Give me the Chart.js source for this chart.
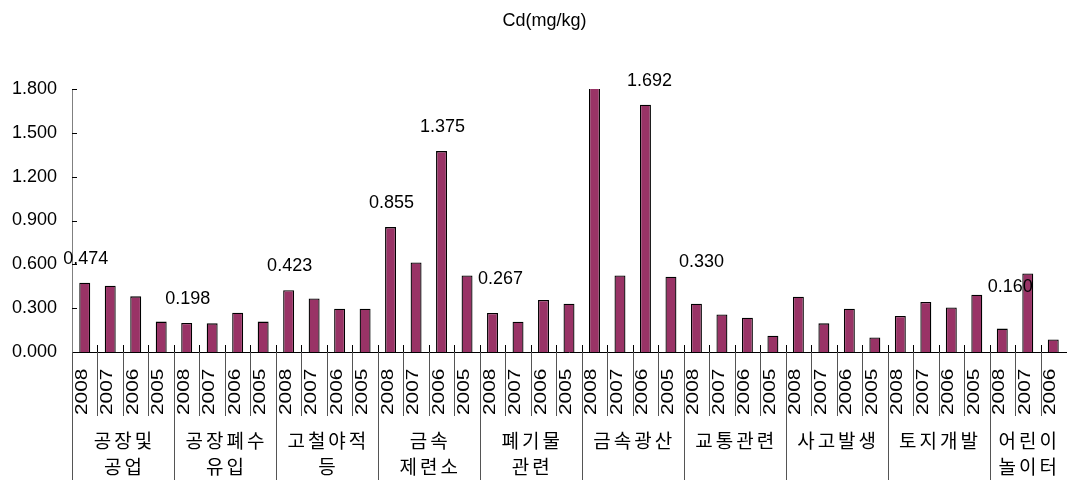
<!DOCTYPE html>
<html>
<head>
<meta charset="utf-8">
<script src="https://cdn.jsdelivr.net/npm/chart.js@4"></script>
<style>
    html, body { margin: 0; padding: 0; background: #fff; }
    #wrap { width: 1069px; height: 480px; }
</style>
</head>
<body>
<div id="wrap"><canvas id="grafico-cd"></canvas></div>
<script>
// grupos (categoria principal) e anos de cada grupo
const groupNames = [
    ['공장및', '공업'], ['공장폐수', '유입'], ['고철야적', '등'], ['금속', '제련소'], ['폐기물', '관련'],
    ['금속광산'], ['교통관련'], ['사고발생'], ['토지개발'], ['어린이', '놀이터']
];
const groupYears = [
    ['2008', '2007', '2006', '2005'], ['2008', '2007', '2006', '2005'], ['2008', '2007', '2006', '2005'],
    ['2008', '2007', '2006', '2005'], ['2008', '2007', '2006', '2005'], ['2008', '2007', '2006', '2005'],
    ['2008', '2007', '2006', '2005'], ['2008', '2007', '2006', '2005'], ['2008', '2007', '2006', '2005'],
    ['2008', '2007', '2006']
];
const cdValues = [
    0.474, 0.454, 0.381, 0.208,
    0.198, 0.196, 0.269, 0.208,
    0.423, 0.367, 0.296, 0.296,
    0.855, 0.613, 1.375, 0.524,
    0.267, 0.207, 0.356, 0.331,
    1.820, 0.524, 1.692, 0.515,
    0.330, 0.257, 0.235, 0.112,
    0.378, 0.196, 0.296, 0.100,
    0.246, 0.342, 0.305, 0.392,
    0.160, 0.538, 0.086
];
// barras que mostram o valor
const labeledBars = [0, 4, 8, 12, 14, 16, 22, 24, 36];
const yTicks = [0, 0.3, 0.6, 0.9, 1.2, 1.5, 1.8];

const yearLabels = groupYears.flat();
const numFont = "'Liberation Sans', Arial, sans-serif";
const korFont = "'Noto Sans CJK KR', sans-serif";

// deslocamento manual de alguns rótulos (como no original)
const labelNudge = { 16: [7, -10], 22: [3, 0], 24: [4, -18], 36: [7, -18] };

const decorPlugin = {
    id: 'decor',
    afterDraw(chart) {
        const ctx = chart.ctx;
        const x = chart.scales.x;
        const y = chart.scales.y;
        const area = chart.chartArea;
        const half = (x.getPixelForValue(1) - x.getPixelForValue(0)) / 2;
        const base = area.bottom;

        ctx.save();

        // título (um pouco à direita do centro, como no original)
        ctx.fillStyle = '#000';
        ctx.font = '18px ' + numFont;
        ctx.textAlign = 'center';
        ctx.textBaseline = 'middle';
        ctx.fillText('Cd(mg/kg)', chart.width / 2 + 10, 21);

        // marcas do eixo y (para dentro)
        ctx.strokeStyle = '#000';
        ctx.lineWidth = 1;
        yTicks.forEach(v => {
            const py = Math.round(y.getPixelForValue(v)) + 0.5;
            ctx.beginPath();
            ctx.moveTo(area.left, py);
            ctx.lineTo(area.left + 5, py);
            ctx.stroke();
        });

        // separadores e anos
        let idx = 0;
        groupYears.forEach((years, g) => {
            years.forEach((yr, k) => {
                const cx = x.getPixelForValue(idx);
                const left = Math.round(cx - half) + 0.5;
                if (idx > 0) {
                    ctx.strokeStyle = '#000';
                    ctx.beginPath();
                    ctx.moveTo(left, base - 7);
                    ctx.lineTo(left, base);
                    ctx.stroke();
                }
                ctx.strokeStyle = '#555';
                ctx.beginPath();
                ctx.moveTo(left, base);
                ctx.lineTo(left, k === 0 ? 480 : base + 64);
                ctx.stroke();

                ctx.save();
                ctx.translate(cx + 2, base + 63);
                ctx.rotate(-Math.PI / 2);
                ctx.scale(1.3, 1);
                ctx.fillStyle = '#000';
                ctx.font = '16px ' + numFont;
                ctx.textAlign = 'left';
                ctx.textBaseline = 'alphabetic';
                ctx.fillText(yr, 0, 0);
                ctx.restore();
                idx++;
            });
        });

        // nomes dos grupos
        idx = 0;
        ctx.fillStyle = '#000';
        ctx.font = '19px ' + korFont;
        ctx.letterSpacing = '3px';
        ctx.textAlign = 'center';
        ctx.textBaseline = 'middle';
        groupNames.forEach((lines, g) => {
            const n = groupYears[g].length;
            const gx = (x.getPixelForValue(idx) + x.getPixelForValue(idx + n - 1)) / 2 + 1.5;
            lines.forEach((txt, li) => {
                ctx.fillText(txt, gx, base + 89 + li * 26);
            });
            idx += n;
        });
        ctx.letterSpacing = '0px';

        // rótulos de valor
        ctx.font = '18px ' + numFont;
        ctx.textBaseline = 'middle';
        labeledBars.forEach(i => {
            const nudge = labelNudge[i] || [0, 0];
            const px = x.getPixelForValue(i) + 1 + nudge[0];
            const py = y.getPixelForValue(cdValues[i]) - 24 + nudge[1];
            ctx.fillText(cdValues[i].toFixed(3), px, py);
        });

        ctx.restore();
    }
};

const ctx = document.getElementById('grafico-cd').getContext('2d');
new Chart(ctx, {
    type: 'bar',
    data: {
        labels: yearLabels,
        datasets: [{
            label: 'Cd(mg/kg)',
            data: cdValues,
            backgroundColor: '#993366',
            borderColor: '#000',
            borderWidth: 1.3,
            barPercentage: 0.43,
            categoryPercentage: 1
        }]
    },
    options: {
        responsive: true,
        maintainAspectRatio: false,
        animation: false,
        layout: {
            padding: { left: 0, right: 3, top: 89, bottom: 128 }
        },
        plugins: {
            legend: { display: false },
            tooltip: { enabled: false },
            title: { display: false }
        },
        scales: {
            x: {
                offset: true,
                afterFit: s => { s.height = 0; },
                grid: { display: false, drawTicks: false },
                border: { display: true, color: '#000', width: 1 },
                ticks: { display: false }
            },
            y: {
                min: 0,
                max: 1.8,
                afterFit: s => { s.width = 72; },
                afterBuildTicks: s => { s.ticks = yTicks.map(v => ({ value: v })); },
                grid: { display: false, drawTicks: false },
                border: { display: true, color: '#808080', width: 1 },
                ticks: {
                    color: '#000',
                    padding: 15,
                    font: { family: numFont, size: 18 },
                    callback: v => Number(v).toFixed(3)
                }
            }
        }
    },
    plugins: [decorPlugin]
});
</script>
</body>
</html>
